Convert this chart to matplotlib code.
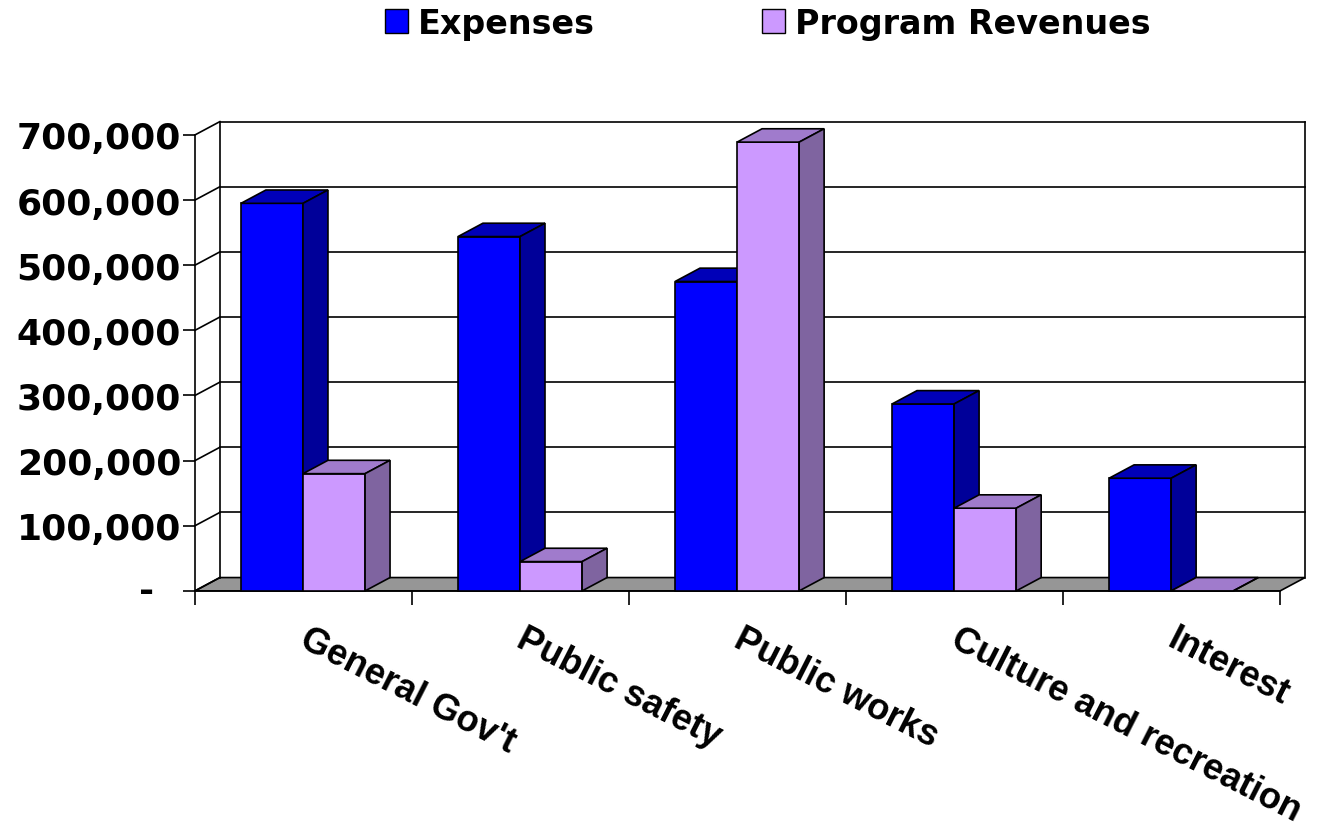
import matplotlib.pyplot as plt
from matplotlib.patches import Polygon, Patch
from matplotlib.ticker import FuncFormatter

categories = ["General Gov't", "Public safety", "Public works",
              "Culture and recreation", "Interest"]
expenses = [595000, 544000, 475000, 287000, 173000]
revenues = [180000, 45000, 689000, 127000, 0]
y_ticks = [0, 100000, 200000, 300000, 400000, 500000, 600000, 700000]

plt.rcParams['font.family'] = ['DejaVu Sans']
plt.rcParams['font.weight'] = 'bold'

fig = plt.figure(figsize=(13.17, 8.29), dpi=100)
ax = fig.add_axes([0.148, 0.286, 0.824, 0.550])
ax.patch.set_visible(False)

n = len(categories)
ymax = y_ticks[-1]
ax.set_xlim(0, n)
ax.set_ylim(0, ymax)

# depth of the fake 3d view (in data units)
dx = 0.115
dy = 20500
bar_w = 0.286
gap = 0.212
lw = 1.2

# floor
ax.add_patch(Polygon([(0, 0), (n, 0), (n + dx, dy), (dx, dy)], closed=True,
                     fc='#969696', ec='black', lw=lw, clip_on=False, zorder=1))

# back wall and side wall lines
for v in y_ticks:
    ax.plot([0, dx], [v, v + dy], color='black', lw=lw, clip_on=False, zorder=1)
    if v > 0:
        ax.plot([dx, n + dx], [v + dy, v + dy], color='black', lw=lw,
                clip_on=False, zorder=1)
ax.plot([dx, dx], [dy, ymax + dy], color='black', lw=lw, clip_on=False, zorder=1)
ax.plot([n + dx, n + dx], [dy, ymax + dy], color='black', lw=lw,
        clip_on=False, zorder=1)


def box(x, h, front, top, side):
    faces = [
        [(x, 0), (x + bar_w, 0), (x + bar_w, h), (x, h)],
        [(x, h), (x + bar_w, h), (x + bar_w + dx, h + dy), (x + dx, h + dy)],
        [(x + bar_w, 0), (x + bar_w + dx, dy), (x + bar_w + dx, h + dy),
         (x + bar_w, h)],
    ]
    for pts, c in zip(faces, [front, top, side]):
        ax.add_patch(Polygon(pts, closed=True, fc=c, ec='black', lw=lw,
                             clip_on=False, zorder=3))


for i in range(n):
    x0 = i + gap
    box(x0, expenses[i], '#0000FF', '#0000B8', '#000099')
    box(x0 + bar_w, revenues[i], '#CC99FF', '#A07BCC', '#7F64A0')

# axes
for s in ['top', 'right']:
    ax.spines[s].set_visible(False)
ax.spines['left'].set_linewidth(lw)
ax.spines['bottom'].set_linewidth(lw)
ax.spines['bottom'].set_zorder(2)

ax.set_yticks(y_ticks)
ax.yaxis.set_major_formatter(FuncFormatter(lambda v, p: '' if v == 0 else f'{v:,.0f}'))
ax.tick_params(axis='y', length=9, width=lw, pad=1, labelsize=26)
ax.annotate('-', xy=(0, 0), xytext=(-35, 0), textcoords='offset points',
            ha='center', va='center', fontsize=26, annotation_clip=False)

ax.set_xticks(range(n + 1))
ax.set_xticklabels([])
ax.tick_params(axis='x', length=10, width=lw)

for i, cat in enumerate(categories):
    ax.text(i + 0.53, -46000, cat, rotation=-27, rotation_mode='anchor',
            ha='left', va='top', fontsize=26.2, family='Liberation Sans')

handles = [Patch(fc='#0000FF', ec='black'), Patch(fc='#CC99FF', ec='black')]
fig.legend(handles, ['Expenses', 'Program Revenues'], loc='upper center',
           bbox_to_anchor=(0.583, 1.027), ncol=2, frameon=False, fontsize=24,
           handlelength=0.7, handleheight=0.7, handletextpad=0.3,
           columnspacing=5)

fig.savefig('out.png', dpi=100)
